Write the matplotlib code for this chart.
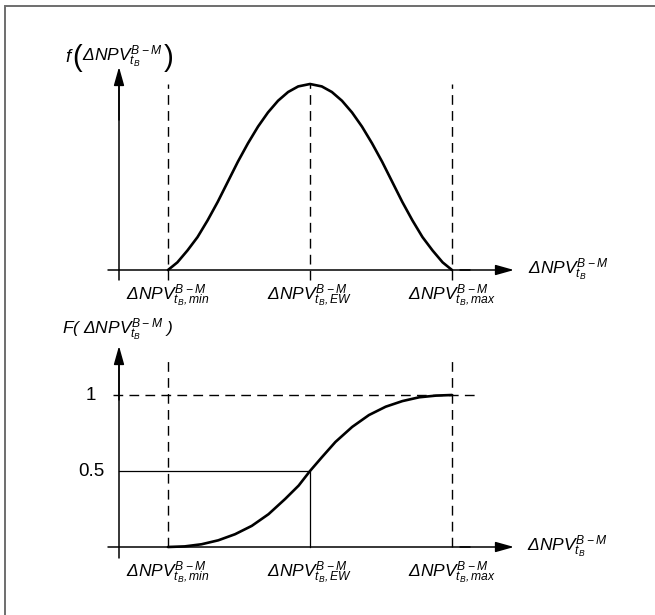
import matplotlib
matplotlib.use('Agg')
from matplotlib import pyplot as plt
from matplotlib.patches import Rectangle

plt.rcParams['font.family'] = 'Liberation Sans'
plt.rcParams['mathtext.fontset'] = 'custom'
plt.rcParams['mathtext.rm'] = 'Liberation Sans:italic'
plt.rcParams['mathtext.it'] = 'Liberation Sans:italic'


x_marks = [-1.0, 0.0, 1.0]          # min, EW, max
x_names = ['min', 'EW', 'max']

# Dichte f (linke Haelfte, rechts gespiegelt)
x_pdf_half = [-1.0, -0.934, -0.863, -0.792, -0.721, -0.65, -0.579, -0.508,
              -0.437, -0.366, -0.296, -0.225, -0.154, -0.083, 0.0]
y_pdf_half = [0.0, 0.041, 0.105, 0.177, 0.267, 0.366, 0.474, 0.582,
              0.681, 0.771, 0.847, 0.91, 0.957, 0.987, 1.0]
x_pdf = x_pdf_half + [-v for v in x_pdf_half[-2::-1]]
y_pdf = y_pdf_half + y_pdf_half[-2::-1]

# Verteilungsfunktion F
x_cdf = [-1.0, -0.882, -0.764, -0.646, -0.528, -0.41, -0.292, -0.175, -0.08,
         0.0, 0.085, 0.179, 0.297, 0.415, 0.533, 0.651, 0.769, 0.887, 1.0]
y_cdf = [0.0, 0.004, 0.018, 0.044, 0.084, 0.139, 0.216, 0.316, 0.404,
         0.5, 0.592, 0.691, 0.79, 0.868, 0.923, 0.96, 0.985, 0.996, 1.0]

y_ticks = [0.5, 1.0]
y_tick_labels = ['0.5', '1']

W, H = 655, 615
FS = 12.5

npv = r'ΔNPV^{B-M}_{t_B}'


def box(x0, y0, x1, y1):
    # Pixelbox (von oben gemessen) -> figure fraction
    return [x0 / W, 1 - y1 / H, (x1 - x0) / W, (y1 - y0) / H]


def arrow(ax, x0, y0, x1, y1):
    ax.annotate('', xy=(x1, H - y1), xycoords='figure pixels',
                xytext=(x0, H - y0), textcoords='figure pixels',
                arrowprops=dict(arrowstyle='-|>,head_length=1.6,head_width=0.45',
                                mutation_scale=7, lw=1.1, color='k',
                                shrinkA=0, shrinkB=0))


def line_px(ax, x0, y0, x1, y1):
    ax.annotate('', xy=(x1, H - y1), xycoords='figure pixels',
                xytext=(x0, H - y0), textcoords='figure pixels',
                arrowprops=dict(arrowstyle='-', lw=1.1, color='k',
                                shrinkA=0, shrinkB=0))


def text_px(ax, x, y, s, **kw):
    return ax.annotate(s, xy=(x, H - y), xycoords='figure pixels', **kw)


fig = plt.figure(figsize=(W / 100, H / 100), dpi=100)
renderer = fig.canvas.get_renderer()

dash = dict(color='k', lw=1.0, dashes=(7, 4.5), clip_on=False)
curve = dict(color='k', lw=1.9, clip_on=False, solid_joinstyle='round',
             solid_capstyle='round')

# ---------- oben: Dichte ----------
ax1 = fig.add_axes(box(168, 84, 452, 270))
ax1.set_xlim(-1, 1)
ax1.set_ylim(0, 1)
ax1.axis('off')

for xm in x_marks:
    ax1.plot([xm, xm], [-10 / 186, 1.0], **dash)
ax1.plot(x_pdf, y_pdf, **curve)

line_px(ax1, 119, 280, 119, 80)
arrow(ax1, 119, 120, 119, 67)
line_px(ax1, 108, 270, 470, 270)
arrow(ax1, 460, 270, 514, 270)

for xm, nm in zip(x_marks, x_names):
    ax1.annotate(r'$ΔNPV^{B-M}_{t_B,%s}$' % nm, xy=(xm, 0), xycoords='data',
                 xytext=(0, -26), textcoords='offset pixels',
                 ha='center', va='center', fontsize=FS)
text_px(ax1, 528, 270, '$' + npv + '$', ha='left', va='center', fontsize=FS)

# f( ... ) mit grossen Klammern, Teile nebeneinander gesetzt
parts = [('$f$', 13.5, 57, -1), ('(', 21, 58, -0.5), ('$' + npv + '$', FS, 57, 1.5),
         (')', 21, 58, 0)]
items = []
for s, fs, yy, gap in parts:
    t = ax1.text(0, 0, s, ha='left', va='center', fontsize=fs,
                 transform=None)
    items.append((t, yy, t.get_window_extent(renderer).width, gap))
total = sum(w + g for _, _, w, g in items)
xx = 119 - total / 2
for t, yy, w, g in items:
    t.set_position((xx, H - yy))
    xx += w + g

# ---------- unten: Verteilungsfunktion ----------
ax2 = fig.add_axes(box(168, 395, 452, 547))
ax2.set_xlim(-1, 1)
ax2.set_ylim(0, 1)
ax2.axis('off')

ax2.plot([x_marks[0], x_marks[0]], [0, 1.245], **dash)
ax2.plot([x_marks[2], x_marks[2]], [0, 1.245], **dash)
ax2.plot([-1.39, 1.19], [y_ticks[1], y_ticks[1]], **dash)
ax2.plot([-1.345, x_marks[1], x_marks[1]], [y_ticks[0], y_ticks[0], 0],
         color='k', lw=0.9, clip_on=False)
ax2.plot(x_cdf, y_cdf, **curve)

line_px(ax2, 119, 558, 119, 360)
arrow(ax2, 119, 400, 119, 346)
line_px(ax2, 108, 547, 470, 547)
arrow(ax2, 460, 547, 514, 547)

for yt, lab in zip(y_ticks, y_tick_labels):
    ax2.annotate(lab, xy=(x_marks[0], yt), xycoords='data',
                 xytext=(-77, 0), textcoords='offset pixels',
                 ha='center', va='center', fontsize=13.5)

for xm, nm in zip(x_marks, x_names):
    ax2.annotate(r'$ΔNPV^{B-M}_{t_B,%s}$' % nm, xy=(xm, 0), xycoords='data',
                 xytext=(0, -26), textcoords='offset pixels',
                 ha='center', va='center', fontsize=FS)
text_px(ax2, 527, 547, '$' + npv + '$', ha='left', va='center', fontsize=FS)
text_px(ax2, 118, 330, r'$F(\ ' + npv + r'\ )$', ha='center', va='center',
        fontsize=FS)

# Rahmen
fig.patches.append(Rectangle((4.5 / W, -0.05), 1.1, (H - 5.5) / H + 0.05,
                             transform=fig.transFigure, fill=False,
                             ec='#6e6e6e', lw=1.4))

plt.savefig('out.png', dpi=100)
